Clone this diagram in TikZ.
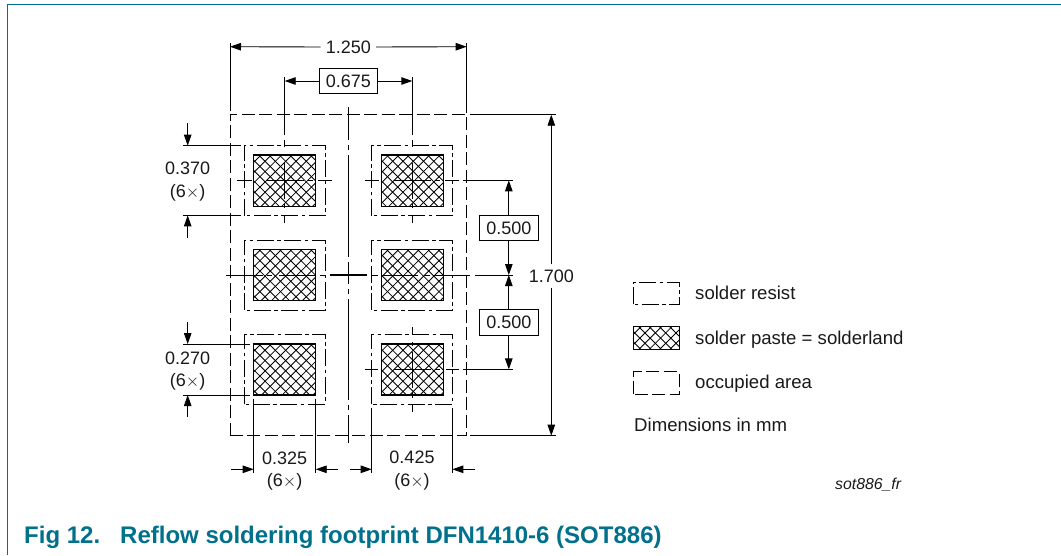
\documentclass[tikz,border=0pt]{standalone}
\usepackage{fontspec}
\setmainfont{Liberation Sans}
\usetikzlibrary{arrows.meta}
\definecolor{nxpteal}{HTML}{00708C}
\tikzset{
  lbl/.style={inner sep=0pt,font=\fontsize{18}{20}\selectfont,text=black!90},
  leg/.style={inner sep=0pt,anchor=base west,font=\fontsize{18.6}{20}\selectfont,text=black!90},
  boxed/.style={draw,line width=0.9pt,inner sep=0pt,font=\fontsize{18}{20}\selectfont,text=black!90},
  thin line/.style={line width=0.9pt},
  dimline/.style={line width=0.9pt,-{Triangle[length=11pt,width=7.5pt]}},
  resist/.style={line width=1pt,dash pattern=on 17pt off 3.5pt on 3.5pt off 3.5pt},
  occupied/.style={line width=1pt,dash pattern=on 13pt off 4.5pt},
  hatchline/.style={line width=0.85pt},
  padedge/.style={line width=1.5pt},
}
\newcommand{\hatchbox}[4]{%
  \begin{scope}
    \clip (#1,#2) rectangle (#3,#4);
    \foreach \k in {0,...,14}{
      \draw[hatchline] ({#1-70+10.3*\k+3},#2) -- ++(70,70);
      \draw[hatchline] ({#1+10.3*\k-3},#2) -- ++(-70,70);
    }
  \end{scope}
  \draw[padedge] (#1,#2) rectangle (#3,#4);
}
\newcommand{\crosslines}[2]{% cx, cy: centre mark with horizontal and vertical chain lines
  \draw[thin line] (#1-47.5,#2) -- (#1-33,#2);
  \draw[thin line] (#1-18,#2) -- (#1+19,#2);
  \draw[thin line] (#1+23,#2) -- (#1+28,#2);
  \draw[thin line] (#1+33,#2) -- (#1+47,#2);
  \draw[line width=1.2pt] (#1,#2-18) -- (#1,#2+18);
  \draw[thin line] (#1,#2+23) -- (#1,#2+27);
  \draw[thin line] (#1,#2+35) -- (#1,#2+42.5);
}
\begin{document}
\begin{tikzpicture}[x=1pt,y=-1pt]
\useasboundingbox (0,0) rectangle (1061,555);
% frame
\draw[nxpteal,line width=1.2pt] (7.5,555) -- (7.5,4.5) -- (1061,4.5);

% pads
\foreach \cx/\sx/\ex in {284.7/244.3/325,412.3/371.7/452.3}{
  \foreach \cy/\ty/\by in {180.5/145.7/215.7,275/240/310,369.5/334.7/404.3}{
    \draw[resist] (\sx,\by) -- (\sx,\ty) -- (\ex,\ty) -- (\ex,\by) -- cycle;
  }
}
\hatchbox{253.7}{155}{315.7}{206.3}
\hatchbox{381.3}{155}{443.3}{206.3}
\hatchbox{253.7}{249.3}{315.7}{300.7}
\hatchbox{381.3}{249.3}{443.3}{300.7}
\hatchbox{253.7}{344}{315.7}{395}
\hatchbox{381.3}{344}{443.3}{395}

% occupied area
\draw[occupied] (230,435.7) -- (230,114.7) -- (466.7,114.7) -- (466.7,435.7) -- cycle;

% centre lines
\draw[thin line] (348.7,107) -- (348.7,140);
\draw[thin line] (348.7,145) -- (348.7,150);
\draw[thin line] (348.7,155) -- (348.7,257);
\draw[thin line] (348.7,262) -- (348.7,267);
\draw[line width=1.2pt] (348.7,267) -- (348.7,284);
\draw[thin line] (348.7,289) -- (348.7,294);
\draw[thin line] (348.7,299) -- (348.7,400);
\draw[thin line] (348.7,405) -- (348.7,410);
\draw[thin line] (348.7,415) -- (348.7,442.7);

\crosslines{284.7}{180.5}
\crosslines{412.3}{180.5}
% bottom-right pad centre mark
\draw[thin line] (365,369.4) -- (378,369.4);
\draw[thin line] (394,369.4) -- (431,369.4);
\draw[thin line] (435,369.4) -- (440,369.4);
\draw[thin line] (446,369.4) -- (459,369.4);
\draw[line width=1.2pt] (412.3,352) -- (412.3,388);
\draw[thin line] (412.3,327) -- (412.3,334.5);
\draw[thin line] (412.3,342) -- (412.3,346);
\draw[thin line] (412.3,393) -- (412.3,398);
\draw[thin line] (412.3,405) -- (412.3,412);
% middle row centre line
\draw[thin line] (226,275) -- (263,275);
\draw[thin line] (267,275) -- (272,275);
\draw[thin line] (279,275) -- (315,275);
\draw[thin line] (320,275) -- (325,275);
\draw[line width=1.2pt] (330,275) -- (367,275);
\draw[thin line] (372,275) -- (378,275);
\draw[thin line] (382,275) -- (418,275);
\draw[thin line] (424,275) -- (430,275);
\draw[thin line] (433,275) -- (470,275);
\draw[thin line] (475,275) -- (513,275);

% top dimensions
\node[lbl] (d1250) at (348.3,47) {1.250};
\coordinate (L1250) at (230,46.7);
\coordinate (R1250) at (466.7,46.7);
\draw[dimline] (d1250.west) ++(-5,0) -- (L1250);
\draw[dimline] (d1250.east) ++(5,0) -- (R1250);
\draw[thin line] (230,43) -- (230,111);
\draw[thin line] (466.7,43) -- (466.7,113);
\node[boxed,minimum width=58.7pt,minimum height=25.4pt] (d0675) at (348.3,81) {0.675};
\coordinate (L0675) at (284.7,81);
\coordinate (R0675) at (412.3,81);
\draw[dimline] (d0675.west) -- (L0675);
\draw[dimline] (d0675.east) -- (R0675);
\draw[thin line] (284.7,77) -- (284.7,135);
\draw[thin line] (284.7,140) -- (284.7,147);
\draw[thin line] (412.3,77) -- (412.3,135);
\draw[thin line] (412.3,140) -- (412.3,147);

% right extension lines
\draw[thin line] (470,114.7) -- (556,114.7);
\draw[thin line] (470,435.7) -- (556,435.7);
\draw[thin line] (463,180.3) -- (513,180.3);
\draw[thin line] (463,369.4) -- (513,369.4);

% 1.700
\node[lbl] (d1700) at (551.3,276) {1.700};
\coordinate (T1700) at (551.3,114.7);
\coordinate (B1700) at (551.3,435.7);
\draw[dimline] (d1700.north) ++(0,-5) -- (T1700);
\draw[dimline] (d1700.south) ++(0,5) -- (B1700);

% 0.500 pair
\node[boxed,minimum width=59pt,minimum height=25.6pt] (d0500a) at (508.8,227.8) {0.500};
\node[boxed,minimum width=59pt,minimum height=25.6pt] (d0500b) at (508.8,322.5) {0.500};
\coordinate (Ta) at (508.8,180.3);
\coordinate (Ma) at (508.8,275);
\coordinate (Mb) at (508.8,275);
\coordinate (Bb) at (508.8,369.4);
\draw[dimline] (d0500a.north) -- (Ta);
\draw[dimline] (d0500a.south) -- (Ma);
\draw[dimline] (d0500b.north) -- (Mb);
\draw[dimline] (d0500b.south) -- (Bb);

% left dimensions
\draw[thin line] (183,145.7) -- (241,145.7);
\draw[thin line] (183,215.4) -- (241,215.4);
\node[lbl] (d0370) at (187.7,168.7) {0.370};
\node[lbl] (m0370) at (187.7,192.7) {(6$\times$)};
\coordinate (a370top) at (187.7,123);
\coordinate (b370top) at (187.7,145.7);
\coordinate (a370bot) at (187.7,237.5);
\coordinate (b370bot) at (187.7,215.4);
\draw[dimline] (a370top) -- (b370top);
\draw[dimline] (a370bot) -- (b370bot);

\draw[thin line] (183,344) -- (250,344);
\draw[thin line] (183,395) -- (250,395);
\node[lbl] (d0270) at (187.7,358) {0.270};
\node[lbl] (m0270) at (187.7,381.7) {(6$\times$)};
\coordinate (a270top) at (187.7,321.7);
\coordinate (b270top) at (187.7,344);
\coordinate (a270bot) at (187.7,417);
\coordinate (b270bot) at (187.7,395);
\draw[dimline] (a270top) -- (b270top);
\draw[dimline] (a270bot) -- (b270bot);

% bottom dimensions
\draw[thin line] (253.7,399) -- (253.7,473);
\draw[thin line] (315.7,399) -- (315.7,473);
\draw[thin line] (371.7,408) -- (371.7,473);
\draw[thin line] (452.3,408) -- (452.3,473);
\node[lbl] (d0325) at (284.7,458) {0.325};
\node[lbl] (m0325) at (284.7,481.7) {(6$\times$)};
\node[lbl] (d0425) at (412,457.7) {0.425};
\node[lbl] (m0425) at (412,481.7) {(6$\times$)};
\coordinate (p1) at (231,469.3);
\coordinate (q1) at (253.7,469.3);
\coordinate (p2) at (337.7,469.3);
\coordinate (q2) at (315.7,469.3);
\coordinate (p3) at (349.7,469.3);
\coordinate (q3) at (371.7,469.3);
\coordinate (p4) at (475,469.3);
\coordinate (q4) at (452.3,469.3);
\draw[dimline] (p1) -- (q1);
\draw[dimline] (p2) -- (q2);
\draw[dimline] (p3) -- (q3);
\draw[dimline] (p4) -- (q4);

% legend
\draw[resist] (633.7,304.3) -- (633.7,282.3) -- (679.3,282.3) -- (679.3,304.3) -- cycle;
\hatchbox{633.7}{326.7}{679.3}{349.3}
\draw[occupied] (633.7,394.3) -- (633.7,371.7) -- (679.3,371.7) -- (679.3,394.3) -- cycle;
\node[leg] (t1) at (695,299) {solder resist};
\node[leg] (t2) at (695,344) {solder paste = solderland};
\node[leg] (t3) at (695,388.5) {occupied area};
\node[leg] (t4) at (634,431.5) {Dimensions in mm};
\node[inner sep=0pt,anchor=base west,font=\fontsize{15.8}{17}\selectfont\itshape,text=black!90] (t5) at (835,489) {sot886\_fr};

% caption
\node[inner sep=0pt,anchor=base west,font=\fontsize{24}{26}\selectfont\bfseries,text=nxpteal] (cap1) at (24,543) {Fig 12.};
\node[inner sep=0pt,anchor=base west,font=\fontsize{24}{26}\selectfont\bfseries,text=nxpteal] (cap2) at (120,543) {Reflow soldering footprint DFN1410-6 (SOT886)};
\end{tikzpicture}
\end{document}
